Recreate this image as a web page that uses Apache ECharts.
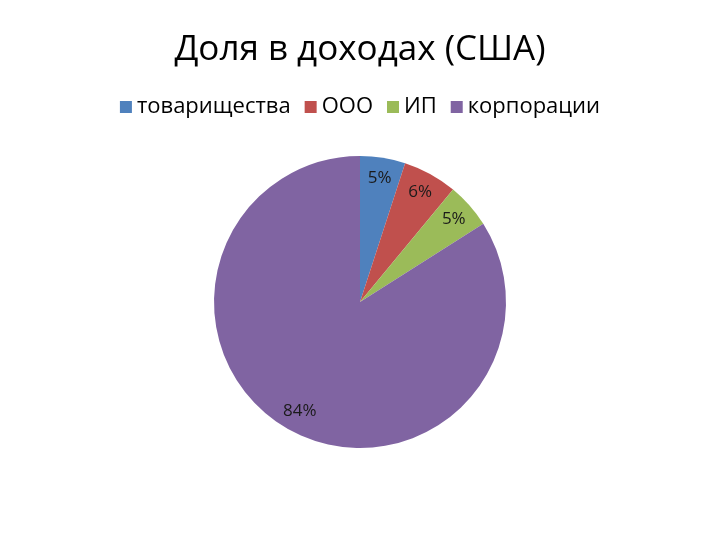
<!DOCTYPE html>
<html>
	<head>
		<meta http-equiv="Content-Type" content="text/html; charset=utf-8"/>
		<title>Доля в доходах (США)</title>
		<script src="https://cdn.jsdelivr.net/npm/echarts@6/dist/echarts.min.js"></script>
		<style>
			html,body{margin:0;padding:0;background:#fff;}
			#tu1{width:720px;height:540px;}
		</style>
	</head>
	<body>
		<div id="tu1"></div>
		<script type="text/javascript">
			var categories = ['товарищества', 'ООО', 'ИП', 'корпорации'];
			var shares = [5, 6, 5, 84];
			var colors = ['#4F81BD', '#C0504D', '#9BBB59', '#8064A2'];

			var datay = categories.map(function(name, i){
				return {name: name, value: shares[i]};
			});

			var myChart1 = echarts.init(document.getElementById('tu1'));
			var option1 = {
				color: colors,
				animation: false,
				textStyle: {fontFamily: 'Open Sans'},
				title: {
					text: 'Доля в доходах (США)',
					left: 'center',
					top: 28,
					textStyle: {fontFamily: 'Open Sans', fontSize: 35, fontWeight: 'normal', color: '#000'}
				},
				legend: {
					top: 91,
					left: 'center',
					icon: 'rect',
					itemWidth: 12,
					itemHeight: 12,
					itemGap: 14,
					textStyle: {fontFamily: 'Open Sans', fontSize: 22, color: '#000'},
					data: categories
				},
				series: [
					{
						name: 'Доля',
						type: 'pie',
						radius: [0, 146],
						center: [360, 302],
						startAngle: 90,
						clockwise: true,
						label: {show: false},
						labelLine: {show: false},
						itemStyle: {borderWidth: 0},
						emphasis: {disabled: true},
						data: datay
					},
					{
						name: 'Подписи',
						type: 'pie',
						radius: [98, 146],
						center: [360, 302],
						startAngle: 90,
						clockwise: true,
						silent: true,
						itemStyle: {color: 'rgba(0,0,0,0)', borderWidth: 0},
						label: {
							show: true,
							position: 'inside',
							formatter: '{c}%',
							fontFamily: 'Open Sans',
							fontSize: 17,
							color: '#1a1a1a'
						},
						labelLine: {show: false},
						emphasis: {disabled: true},
						data: datay
					}
				]
			};
			myChart1.setOption(option1);
		</script>
	</body>
</html>
